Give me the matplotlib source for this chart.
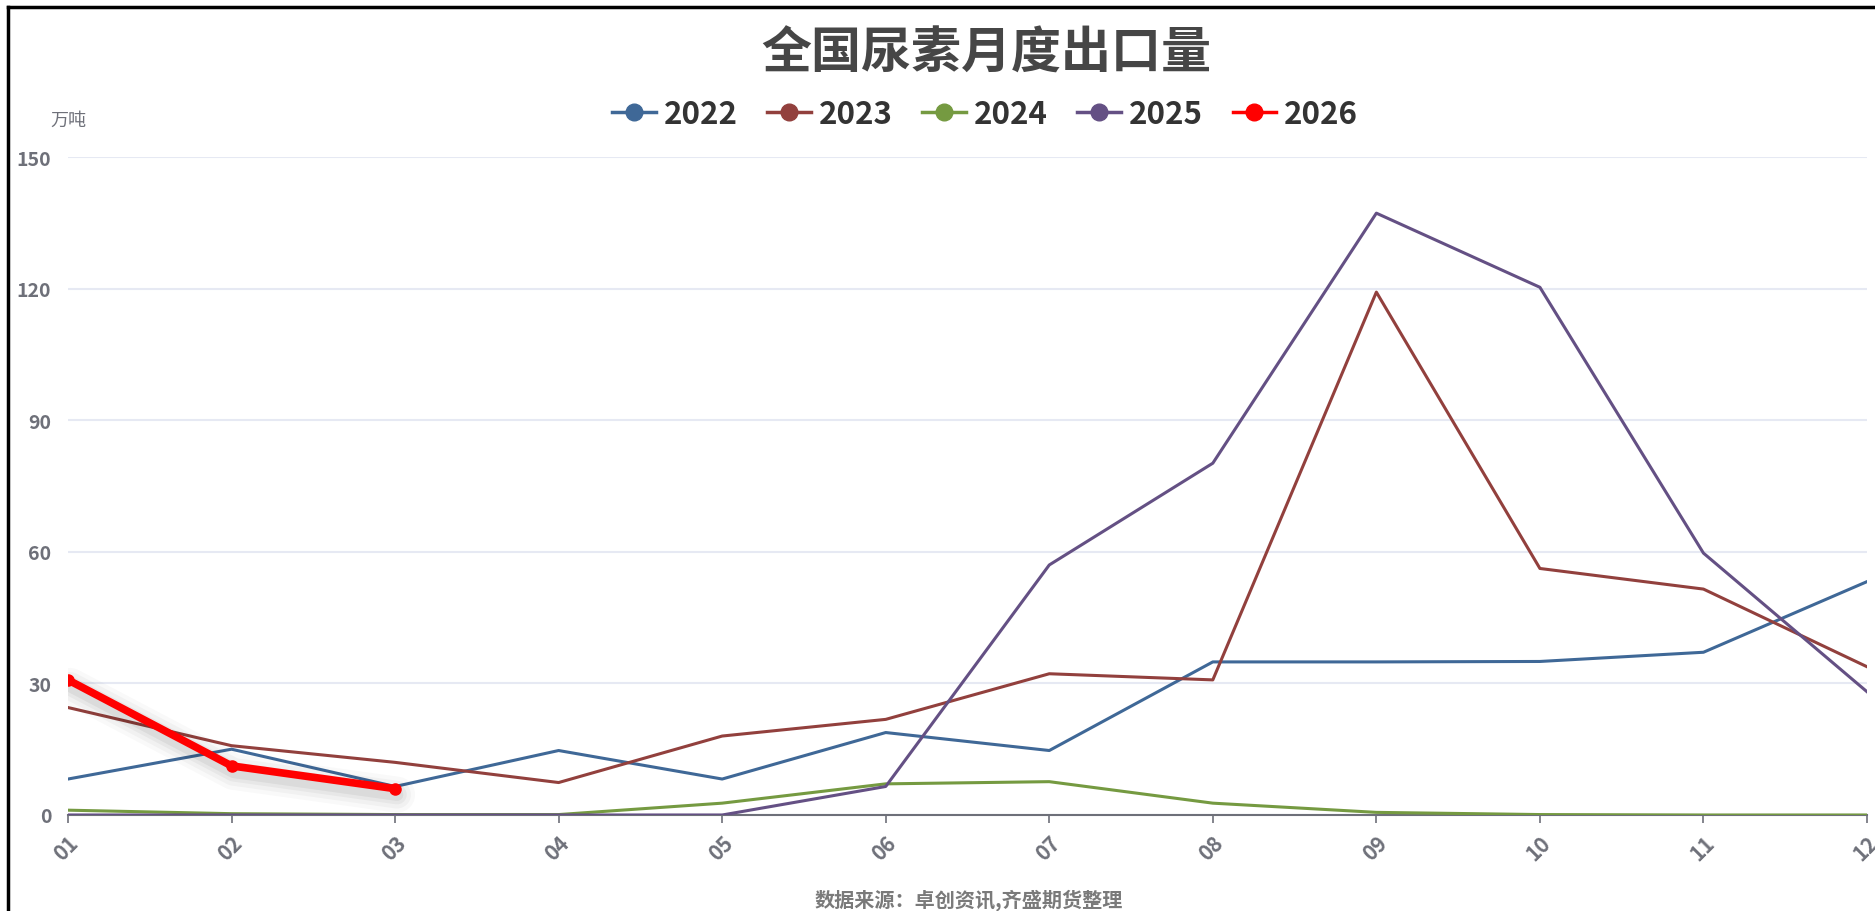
import matplotlib.pyplot as plt
from matplotlib.lines import Line2D
import matplotlib.transforms as mtransforms

plt.rcParams['font.family'] = ['Noto Sans CJK SC', 'DejaVu Sans']

months = ['01', '02', '03', '04', '05', '06', '07', '08', '09', '10', '11', '12']

y2022 = [8.2, 15.0, 6.5, 14.7, 8.2, 18.8, 14.7, 34.9, 34.9, 35.0, 37.1, 53.2]
y2023 = [24.5, 15.8, 12.0, 7.4, 18.0, 21.8, 32.2, 30.8, 119.2, 56.2, 51.5, 33.8]
y2024 = [1.1, 0.3, 0.1, 0.1, 2.7, 7.1, 7.6, 2.7, 0.6, 0.1, 0.0, 0.0]
y2025 = [0.0, 0.0, 0.0, 0.0, 0.0, 6.5, 57.0, 80.2, 137.2, 120.3, 59.7, 28.1]
y2026 = [30.8, 11.2, 6.0]

labels = ['2022', '2023', '2024', '2025', '2026']
colors = ['#3f6897', '#92403d', '#759a41', '#645084', '#ff0000']

fig = plt.figure(figsize=(18.75, 9.12), dpi=100)
ax = fig.add_axes([68 / 1875, 1 - 816 / 912, (1867 - 68) / 1875, (816 - 158) / 912])

x = list(range(len(months)))
ax.plot(x, y2022, color=colors[0], lw=2.2, zorder=3)
ax.plot(x, y2023, color=colors[1], lw=2.2, zorder=3)
ax.plot(x, y2024, color=colors[2], lw=2.2, zorder=3)
ax.plot(x, y2025, color=colors[3], lw=2.2, zorder=3)

# soft shadow under the 2026 line
shadow_tr = mtransforms.offset_copy(ax.transData, fig=fig, x=2, y=-6, units='dots')
for w, a in [(26, 0.025), (20, 0.03), (14, 0.04), (9, 0.05)]:
    ax.plot(x[:len(y2026)], y2026, color='black', lw=w, alpha=a, transform=shadow_tr,
            solid_capstyle='round', solid_joinstyle='round', zorder=4)
ax.plot(x[:len(y2026)], y2026, color=colors[4], lw=5.5, marker='o', ms=8,
        zorder=5, solid_capstyle='round', solid_joinstyle='round')

ax.set_xlim(0, 11)
ax.set_ylim(0, 150)
ax.set_yticks([0, 30, 60, 90, 120, 150])
ax.set_xticks(x)
ax.set_xticklabels(months, rotation=45, ha='right', rotation_mode='anchor')
ax.grid(axis='y', color='#e6e9f3', lw=1.5)
ax.set_axisbelow(True)
for side in ['top', 'right', 'left']:
    ax.spines[side].set_visible(False)
ax.spines['bottom'].set_color('#6e7079')
ax.spines['bottom'].set_linewidth(1.5)
ax.tick_params(axis='y', length=0, pad=12, labelsize=14, labelcolor='#6e7079')
ax.tick_params(axis='x', length=6, width=1.2, color='#6e7079', pad=6,
               labelsize=15, labelcolor='#6e7079')
for t in ax.get_xticklabels() + ax.get_yticklabels():
    t.set_fontweight('bold')

fig.text(986 / 1875, 1 - 54 / 912, '全国尿素月度出口量', ha='center', va='center',
         fontsize=36, fontweight='bold', color='#464646')

handles = [Line2D([0], [0], color=c, lw=2.5, marker='o', ms=12) for c in colors]
leg = fig.legend(handles, labels, loc='center', bbox_to_anchor=(985 / 1875, 1 - 115 / 912),
                 ncol=5, frameon=False, handlelength=1.4, handletextpad=0.25,
                 columnspacing=0.95, prop={'size': 22.5, 'weight': 'bold'})
for t in leg.get_texts():
    t.set_color('#333333')

fig.text(68 / 1875, 1 - 121 / 912, '万吨', ha='center', va='center', fontsize=13, color='#6e7079')
fig.text(969 / 1875, 1 - 900 / 912, '数据来源：卓创资讯,齐盛期货整理', ha='center', va='center',
         fontsize=14.5, fontweight='bold', color='#7a7a7a')

# frame lines of the screenshot
fig.add_artist(Line2D([8 / 1875, 1], [1 - 8 / 912, 1 - 8 / 912], color='black', lw=2.5))
fig.add_artist(Line2D([8 / 1875, 8 / 1875], [0, 1 - 8 / 912], color='black', lw=2.5))

fig.savefig('out.png', dpi=100)
